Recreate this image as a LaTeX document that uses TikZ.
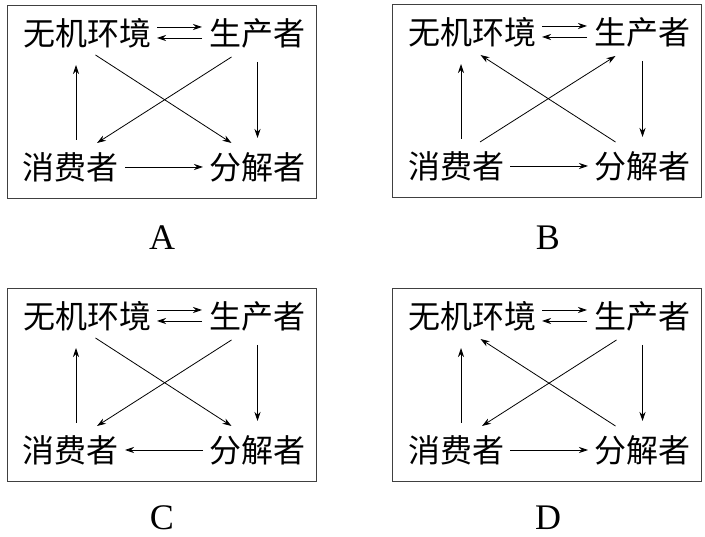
\documentclass[tikz,border=0pt]{standalone}
\usepackage{fontspec}
\setmainfont{Liberation Serif}
\newfontfamily\cjk{Noto Sans CJK SC}
\usetikzlibrary{arrows.meta}

% one panel: #1 suffix, #2/#3 top left corner of the frame
\newcommand{\ecopanel}[3]{%
  \begin{scope}[shift={(#2,#3)}]
    \draw[frame] (0,0) rectangle (309,-193);
    \node[term] (wj#1) at (80.5,-28) {无机环境};
    \node[term] (sc#1) at (250.5,-28) {生产者};
    \node[term] (xf#1) at (64,-162) {消费者};
    \node[term] (fj#1) at (250.5,-162) {分解者};
  \end{scope}
  \draw[arrow] ([xshift=69.5pt,yshift=6pt]wj#1.center) -- ([xshift=-55.5pt,yshift=6pt]sc#1.center);
  \draw[arrow] ([xshift=-55.5pt,yshift=-5pt]sc#1.center) -- ([xshift=69.5pt,yshift=-5pt]wj#1.center);
  \draw[arrow] ([xshift=5pt,yshift=27pt]xf#1.center) -- ([xshift=-11.5pt,yshift=-32pt]wj#1.center);
  \draw[arrow] ([yshift=-29pt]sc#1.center) -- ([yshift=29pt]fj#1.center);
}

\begin{document}
\begin{tikzpicture}[
    x=1pt,y=1pt,
    term/.style={inner sep=0pt,font=\cjk\fontsize{32}{36}\selectfont},
    tag/.style={inner sep=0pt,font=\fontsize{36}{40}\selectfont},
    frame/.style={draw=black!75,line width=0.9pt},
    arrow/.style={-{Stealth[length=9pt,width=6pt]},line width=0.8pt}
  ]
  \useasboundingbox (0,0) rectangle (705,-537);

  % A
  \ecopanel{A}{7}{-5}
  \draw[arrow] ([xshift=8pt,yshift=-22pt]wjA.center) -- ([xshift=-26pt,yshift=24pt]fjA.center);
  \draw[arrow] ([xshift=-26pt,yshift=-24pt]scA.center) -- ([xshift=26pt,yshift=24pt]xfA.center);
  \draw[arrow] ([xshift=54pt]xfA.center) -- ([xshift=-54.5pt]fjA.center);
  \node[tag] (labA) at (162,-238) {A};

  % B
  \ecopanel{B}{392}{-4}
  \draw[arrow] ([xshift=24pt,yshift=24pt]xfB.center) -- ([xshift=-27pt,yshift=-24pt]scB.center);
  \draw[arrow] ([xshift=-27pt,yshift=24pt]fjB.center) -- ([xshift=8pt,yshift=-23pt]wjB.center);
  \draw[arrow] ([xshift=54pt]xfB.center) -- ([xshift=-54.5pt]fjB.center);
  \node[tag] (labB) at (548,-238) {B};

  % C
  \ecopanel{C}{7}{-288}
  \draw[arrow] ([xshift=8pt,yshift=-22pt]wjC.center) -- ([xshift=-26pt,yshift=24pt]fjC.center);
  \draw[arrow] ([xshift=-26pt,yshift=-24pt]scC.center) -- ([xshift=26pt,yshift=24pt]xfC.center);
  \draw[arrow] ([xshift=-54.5pt]fjC.center) -- ([xshift=54pt]xfC.center);
  \node[tag] (labC) at (162,-518) {C};

  % D
  \ecopanel{D}{392}{-288}
  \draw[arrow] ([xshift=-26pt,yshift=-24pt]scD.center) -- ([xshift=26pt,yshift=24pt]xfD.center);
  \draw[arrow] ([xshift=-27pt,yshift=24pt]fjD.center) -- ([xshift=8pt,yshift=-23pt]wjD.center);
  \draw[arrow] ([xshift=54pt]xfD.center) -- ([xshift=-54.5pt]fjD.center);
  \node[tag] (labD) at (548,-518) {D};
\end{tikzpicture}
\end{document}
